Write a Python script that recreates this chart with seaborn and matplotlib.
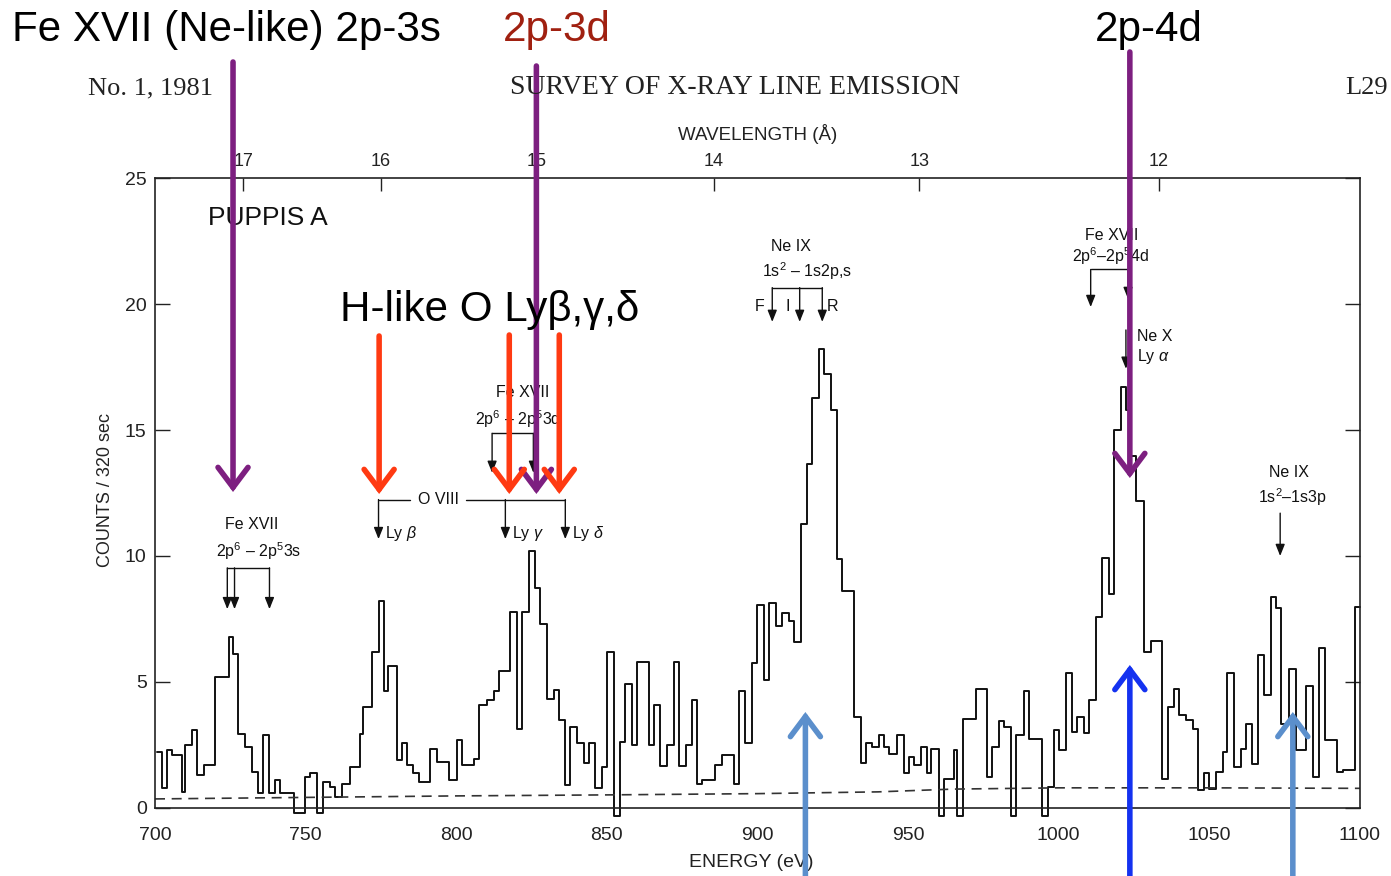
import numpy as np
import pandas as pd
import matplotlib
matplotlib.use("Agg")
import matplotlib.pyplot as plt
import seaborn as sns

# ---------------- data ----------------
energy_edges = [700.5, 702.2, 703.9, 705.5, 708.9, 710.0, 712.2, 713.8, 716.1, 719.9,
                724.4, 726.0, 727.7, 729.9, 732.1, 734.3, 736.0, 737.7, 739.9, 741.5,
                746.0, 749.8, 751.5, 753.7, 755.9, 758.1, 759.8, 762.0, 764.8, 768.1,
                769.2, 772.0, 774.2, 775.9, 777.5, 780.3, 781.9, 783.6, 785.8, 787.5,
                791.4, 793.6, 797.5, 800.2, 801.9, 805.8, 807.4, 810.2, 812.4, 814.1,
                817.9, 820.2, 821.8, 824.0, 826.2, 827.9, 830.1, 832.3, 834.0, 836.2,
                837.9, 840.1, 842.3, 844.0, 846.2, 848.4, 850.1, 852.3, 854.5, 856.1,
                858.4, 860.0, 863.9, 865.6, 867.8, 870.0, 872.2, 873.9, 876.1, 878.3,
                880.0, 881.6, 886.0, 888.3, 892.1, 893.8, 896.0, 898.2, 899.9, 902.1,
                903.8, 906.0, 908.2, 910.4, 912.1, 914.3, 916.5, 918.2, 920.4, 922.0,
                924.3, 926.5, 928.1, 932.0, 934.2, 935.9, 938.1, 940.3, 942.0, 943.6,
                946.4, 948.6, 950.3, 951.9, 954.2, 956.4, 957.5, 960.3, 961.9, 965.2,
                966.3, 968.3, 972.4, 976.3, 978.0, 980.2, 981.8, 984.3, 985.7, 988.5,
                990.1, 994.6, 996.5, 998.4, 1000.1, 1002.3, 1004.5, 1006.2, 1008.4, 1010.1,
                1012.3, 1014.5, 1016.7, 1018.4, 1020.6, 1022.3, 1023.9, 1025.8, 1028.3, 1030.6,
                1034.4, 1036.1, 1038.3, 1040.0, 1042.2, 1044.4, 1046.1, 1048.3, 1049.9, 1052.2,
                1054.4, 1056.0, 1058.3, 1060.5, 1062.1, 1064.3, 1066.0, 1068.2, 1070.4, 1072.1,
                1073.8, 1076.5, 1078.7, 1082.1, 1084.3, 1086.5, 1088.4, 1092.4, 1094.2, 1098.3]
counts = [2.23, 0.78, 2.29, 2.09, 0.65, 2.49, 3.08, 1.30, 1.70, 5.19,
          6.77, 6.11, 2.95, 2.42, 1.44, 0.58, 2.91, 0.58, 1.11, 0.58,
          -0.2, 1.24, 1.37, -0.2, 1.04, 0.84, 0.45, 0.97, 1.63, 2.95,
          4.00, 6.18, 8.22, 4.66, 5.65, 1.90, 2.56, 1.70, 1.37, 1.04,
          2.36, 1.83, 1.11, 2.71, 1.70, 1.96, 4.07, 4.27, 4.66, 5.45,
          7.76, 3.15, 7.76, 10.2, 8.72, 7.30, 4.33, 4.69, 3.48, 0.91,
          3.21, 2.56, 1.77, 2.56, 0.78, 1.61, 6.18, -0.3, 2.62, 4.93,
          2.49, 5.78, 2.49, 4.07, 1.66, 2.49, 5.78, 1.66, 2.49, 4.30,
          0.97, 1.11, 1.70, 2.09, 0.97, 4.66, 2.56, 5.74, 8.06, 5.06,
          8.13, 7.23, 7.72, 7.43, 6.57, 11.28, 13.65, 16.28, 18.23, 17.21,
          15.80, 9.87, 8.62, 3.61, 1.77, 2.56, 2.42, 2.89, 2.42, 2.16,
          2.89, 1.37, 2.03, 1.70, 2.42, 1.37, 2.36, -0.3, 1.17, 2.29,
          -0.3, 3.54, 4.73, 1.24, 2.42, 3.45, 3.21, -0.3, 2.89, 4.66,
          2.75, -0.3, 0.84, 3.11, 2.32, 5.35, 3.02, 3.61, 2.98, 4.27,
          7.56, 9.93, 8.48, 15.0, 16.72, 15.8, 13.95, 12.2, 6.18, 6.64,
          1.17, 4.01, 4.73, 3.68, 3.48, 3.15, 0.71, 1.37, 0.74, 1.44,
          2.23, 5.35, 1.63, 2.36, 3.35, 1.74, 6.09, 4.47, 8.38, 7.93,
          3.35, 5.52, 2.29, 4.86, 1.24, 6.35, 2.69, 1.41, 1.50, 7.96]
last_edge = 1100.0

bg_energy = [700, 750, 800, 850, 900, 940, 965, 1000, 1050, 1100]
bg_counts = [0.36, 0.42, 0.48, 0.52, 0.57, 0.64, 0.75, 0.80, 0.80, 0.78]

energy_ticks = [700, 750, 800, 850, 900, 950, 1000, 1050, 1100]
count_ticks = [0, 5, 10, 15, 20, 25]
wavelength_ticks = [12, 13, 14, 15, 16, 17]

# original line identifications (energy eV, count levels)
fe3s_lines, fe3s_bar, fe3s_tip = [724.0, 726.4, 738.0], 9.53, 7.89
o8_lines, o8_bar, o8_tip = [774.2, 816.3, 836.2], 12.24, 10.67
fe3d_lines, fe3d_bar, fe3d_tip = [811.9, 825.6], 14.87, 13.3
ne9_lines, ne9_bar, ne9_tip = [904.9, 914.0, 921.5], 20.65, 19.29
fe4d_lines, fe4d_bar, fe4d_tips = [1010.6, 1023.0], 21.37, [19.88, 20.2]
ne10_line, ne10_top, ne10_tip = 1022.3, 18.97, 17.43
ne9p_line, ne9p_top, ne9p_tip = 1073.5, 11.7, 10.0

# overlay arrows (energy, top row px, bottom row px)
purple_arrows = [(725.9, 62, 492), (826.6, 66, 494), (1023.6, 52, 478)]
red_arrows = [(774.4, 336, 494), (817.6, 335, 494), (834.2, 335, 494)]
up_arrows = [(915.9, 876, 712, "#5B8FCC"), (1023.6, 876, 665, "#1432F0"),
             (1077.7, 876, 712, "#5B8FCC")]

# ---------------- styling ----------------
sns.set_style("white")
plt.rcParams["font.family"] = ["Liberation Sans", "DejaVu Sans"]
plt.rcParams["mathtext.fontset"] = "custom"
plt.rcParams["mathtext.rm"] = "Liberation Sans"
plt.rcParams["mathtext.it"] = "Liberation Sans:italic"

W, H = 1391, 876
fig = plt.figure(figsize=(W / 100, H / 100), dpi=100)
ax = fig.add_axes([155 / W, 68 / H, 1205 / W, 630 / H])

df = pd.DataFrame({"energy": energy_edges + [last_edge],
                   "counts": counts + [counts[-1]]})
sns.lineplot(data=df, x="energy", y="counts", ax=ax, drawstyle="steps-post",
             estimator=None, color="#111111", lw=1.4, clip_on=False)
bg = pd.DataFrame({"energy": bg_energy, "counts": bg_counts})
sns.lineplot(data=bg, x="energy", y="counts", ax=ax, estimator=None,
             color="#333333", lw=1.2, linestyle=(0, (6, 4)))

ax.set_xlim(700, 1100)
ax.set_ylim(0, 25)
ax.set_xticks(energy_ticks)
ax.set_xticks(np.arange(700, 1101, 5), minor=True)
ax.set_yticks(count_ticks)
ax.tick_params(axis="x", which="major", direction="out", length=8.5, width=1.0,
               labelsize=14, pad=5, colors="#222222")
ax.tick_params(axis="x", which="minor", direction="out", length=4, width=0.8,
               colors="#222222")
ax.tick_params(axis="y", which="major", direction="in", length=11, width=1.0,
               left=True, right=True, labelsize=14, pad=6, colors="#222222")
for s in ax.spines.values():
    s.set_color("#222222")
    s.set_linewidth(1.2)
ax.set_xlabel("ENERGY (eV)", fontsize=14, color="#222222")
ax.xaxis.set_label_coords(0.495, -0.073)
ax.set_ylabel("COUNTS / 320 sec", fontsize=13, color="#222222")
ax.yaxis.set_label_coords(-0.034, 0.505)


def e2l(e):
    e = np.asarray(e, dtype=float)
    with np.errstate(divide="ignore"):
        return 12398.4 / e


secax = ax.secondary_xaxis("top", functions=(e2l, e2l))
secax.set_xticks(wavelength_ticks)
secax.tick_params(direction="in", length=9, width=1.0, labelsize=13, pad=6,
                  colors="#222222")
secax.spines["top"].set_visible(False)
secax.set_xlabel("WAVELENGTH (Å)", fontsize=13.5, labelpad=9, color="#222222")

# ---------------- original line labels ----------------
k = dict(color="#111111", lw=1.0)


def drop(x, y0, y1):
    ax.annotate("", xy=(x, y1), xytext=(x, y0), annotation_clip=False,
                arrowprops=dict(arrowstyle="-|>,head_length=0.5,head_width=0.2",
                                color="#111111", lw=1.0, shrinkA=0, shrinkB=0,
                                mutation_scale=14))


def label(x, y, s, size=11.5, ha="center"):
    ax.text(x, y, s, fontsize=size, ha=ha, va="center", color="#111111")


label(737.5, 23.4, "PUPPIS A", size=19, ha="center")

label(732.1, 11.25, "Fe XVII")
label(734.3, 10.2, r"2p$^{6}$ – 2p$^{5}$3s")
ax.plot([min(fe3s_lines), max(fe3s_lines)], [fe3s_bar] * 2, **k)
for x in fe3s_lines:
    drop(x, fe3s_bar, fe3s_tip)

ax.plot([o8_lines[0], 784.6], [o8_bar] * 2, **k)
ax.plot([803.3, o8_lines[-1]], [o8_bar] * 2, **k)
label(794.0, o8_bar, "O VIII")
for x in o8_lines:
    drop(x, o8_bar, o8_tip)
label(776.3, 10.9, r"Ly $\beta$", ha="left")
label(818.4, 10.9, r"Ly $\gamma$", ha="left")
label(838.3, 10.9, r"Ly $\delta$", ha="left")

label(821.9, 16.5, "Fe XVII")
label(820.6, 15.45, r"2p$^{6}$ – 2p$^{5}$3d")
ax.plot([min(fe3d_lines), max(fe3d_lines)], [fe3d_bar] * 2, **k)
for x in fe3d_lines:
    drop(x, fe3d_bar, fe3d_tip)

label(911.0, 22.3, "Ne IX")
label(916.3, 21.3, r"1s$^{2}$ – 1s2p,s")
ax.plot([min(ne9_lines), max(ne9_lines)], [ne9_bar] * 2, **k)
for x in ne9_lines:
    drop(x, ne9_bar, ne9_tip)
label(900.6, 19.9, "F")
label(910.0, 19.9, "I")
label(924.8, 19.9, "R")

label(1017.6, 22.7, "Fe XVII")
label(1017.3, 21.9, r"2p$^{6}$–2p$^{5}$4d")
ax.plot([min(fe4d_lines), max(fe4d_lines)], [fe4d_bar] * 2, **k)
for x, t in zip(fe4d_lines, fe4d_tips):
    drop(x, fe4d_bar, t)

label(1026.0, 18.7, "Ne X", ha="left")
label(1026.0, 17.9, r"Ly $\alpha$", ha="left")
drop(ne10_line, ne10_top, ne10_tip)

label(1076.4, 13.3, "Ne IX")
label(1077.7, 12.35, r"1s$^{2}$–1s3p")
drop(ne9p_line, ne9p_top, ne9p_tip)

# ---------------- header (journal page) ----------------
serif = ["Liberation Serif", "DejaVu Serif"]
fig.text(88 / W, 1 - 88 / H, "No. 1, 1981", fontsize=19, family=serif,
         ha="left", va="center", color="#222222")
fig.text(510 / W, 1 - 88 / H, "SURVEY OF X-RAY LINE EMISSION", fontsize=20,
         family=serif, ha="left", va="center", color="#222222")
fig.text(1345 / W, 1 - 88 / H, "L29", fontsize=19, family=serif,
         ha="left", va="center", color="#222222")

# ---------------- overlay annotations ----------------
fig.text(12 / W, 1 - 30 / H, "Fe XVII (Ne-like) 2p-3s", fontsize=30.3,
         ha="left", va="center", color="black")
fig.text(503 / W, 1 - 30 / H, "2p-3d", fontsize=30.3, ha="left", va="center",
         color="#A02010")
fig.text(1095 / W, 1 - 30 / H, "2p-4d", fontsize=30.3, ha="left", va="center",
         color="black")
fig.text(340 / W, 1 - 310 / H, "H-like O Lyβ,γ,δ", fontsize=30.3, ha="left",
         va="center", color="black")


def big_arrow(x, row_from, row_to, color):
    ax.annotate("", xy=(x, H - row_to), xytext=(x, H - row_from),
                xycoords=("data", "figure pixels"),
                textcoords=("data", "figure pixels"), annotation_clip=False,
                arrowprops=dict(arrowstyle="->,head_length=0.6,head_width=0.45",
                                color=color, lw=4, shrinkA=0, shrinkB=0,
                                mutation_scale=24, capstyle="round",
                                joinstyle="miter"), zorder=10)


for x, r0, r1 in purple_arrows:
    big_arrow(x, r0, r1, "#7D1F80")
for x, r0, r1 in red_arrows:
    big_arrow(x, r0, r1, "#FF3A12")
for x, r0, r1, c in up_arrows:
    big_arrow(x, r0, r1, c)

fig.savefig("out.png", dpi=100, facecolor="white")
